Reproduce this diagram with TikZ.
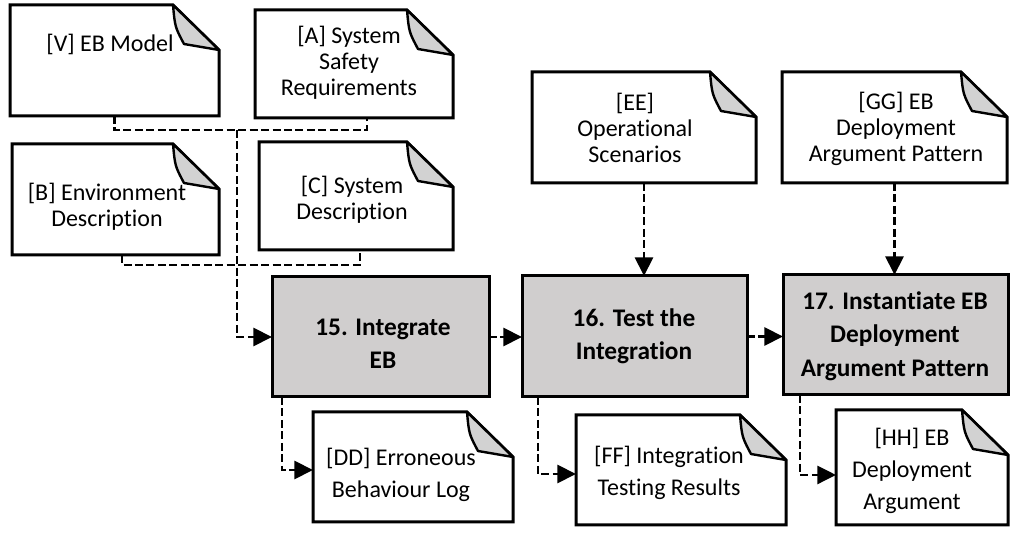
\documentclass[tikz,border=0pt]{standalone}
\usepackage{fontspec}
\setmainfont{Carlito}[Ligatures={NoCommon,NoRequired,NoContextual},RawFeature={-liga;-dlig;-clig}]
\usetikzlibrary{arrows.meta,calc,fit}
\definecolor{procgray}{RGB}{208,206,206}
\definecolor{foldgray}{RGB}{210,210,210}
\tikzset{
  docbox/.style={inner sep=0pt, outer sep=0pt},
  docline/.style={draw=black, line width=2.25pt, fill=white, line join=miter},
  foldline/.style={draw=black, line width=1.8pt, fill=foldgray, line join=round},
  proc/.style={draw=black, line width=2.25pt, fill=procgray, inner sep=0pt, outer sep=0pt},
  conn/.style={line width=2.1pt, dash pattern=on 6pt off 2.6pt},
  arr/.style={conn, -{Triangle[length=14pt,width=13.5pt]}},
  dtext/.style={align=center, inner sep=0pt, font=\fontsize{18}{19.5}\selectfont},
  dtextb/.style={align=center, inner sep=0pt, font=\fontsize{18}{24}\selectfont},
  ptext/.style={align=center, inner sep=0pt, font=\fontsize{19}{25}\selectfont\bfseries},
}
\newcommand\docshape[1]{%
  \draw[docline] (#1.north west) -- ($(#1.north east)+(-46,0)$) -- ($(#1.north east)+(0,45)$) -- (#1.south east) -- (#1.south west) -- cycle;
  \draw[foldline] ($(#1.north east)+(-46,0)$) .. controls ($(#1.north east)+(-44,22)$) .. ($(#1.north east)+(-35,39)$) -- ($(#1.north east)+(0,45)$) -- cycle;}
\begin{document}
\begin{tikzpicture}[x=0.75pt,y=-0.75pt]
\useasboundingbox (0,0) rectangle (1022,534);
% document boxes
\node[docbox, fit={(10,5)(219,116)}] (V) {};
\node[docbox, fit={(255,10)(453,118)}] (A) {};
\node[docbox, fit={(12,144)(219,255)}] (B) {};
\node[docbox, fit={(259,142)(453,250)}] (C) {};
\node[docbox, fit={(532,72)(756,183)}] (EE) {};
\node[docbox, fit={(782,72)(1007,183)}] (GG) {};
\node[docbox, fit={(313,412)(513,522)}] (DD) {};
\node[docbox, fit={(576,415)(786,525)}] (FF) {};
\node[docbox, fit={(836,410)(1008,525)}] (HH) {};
\foreach \n in {V,A,B,C,EE,GG,DD,FF,HH}{\docshape{\n}}
% process boxes
\node[proc, fit={(272,277)(489,397)}] (P15) {};
\node[proc, fit={(522,276)(747,397)}] (P16) {};
\node[proc, fit={(783,275)(1008,395)}] (P17) {};
% texts
\node[dtext] (Vt) at (110,44) {[V] EB Model};
\node[dtext] (At) at (349,63) {[A] System\\Safety\\Requirements};
\node[dtext] (Bt) at (107,207) {[B] Environment\\Description};
\node[dtext] (Ct) at (352,200) {[C] System\\Description};
\node[dtext] (EEt) at (635,128) {[EE]\\Operational\\Scenarios};
\node[dtext] (GGt) at (896,129) {[GG] EB\\Deployment\\Argument Pattern};
\node[dtextb] (DDt) at (401,475) {[DD] Erroneous\\Behaviour Log};
\node[dtextb] (FFt) at (669,473) {[FF] Integration\\Testing Results};
\node[dtextb] (HHt) at (912,471) {[HH] EB\\Deployment\\Argument};
\node[ptext] (P15t) at (383,344) {15. Integrate\\EB};
\node[ptext] (P16t) at (634,336) {16. Test the\\Integration};
\node[ptext] (P17t) at (895,336) {17. Instantiate EB\\Deployment\\Argument Pattern};
% connectors
\draw[conn] (V.south) -- ++(0,14) -| ([xshift=9.75pt]A.south);
\draw[conn] ([xshift=4.9pt]B.south) -- ++(0,10) -| ([xshift=3pt]C.south);
\coordinate (J) at (237,130);
\draw[arr] (J) |- (P15.west);
\draw[arr] (P15.east) -- (P15.east -| P16.west);
\draw[arr] (P16.east) -- (P16.east -| P17.west);
\draw[arr] (EE.south) -- (EE.south |- P16.north);
\draw[arr] (GG.south) -- (GG.south |- P17.north);
\draw[arr] ([xshift=7.5pt]P15.south west) |- ([yshift=-2.25pt]DD.west);
\draw[arr] ([xshift=12pt]P16.south west) |- ([yshift=-3pt]FF.west);
\draw[arr] ([xshift=12.75pt]P17.south west) |- ([yshift=-5.6pt]HH.west);
\end{tikzpicture}
\end{document}
